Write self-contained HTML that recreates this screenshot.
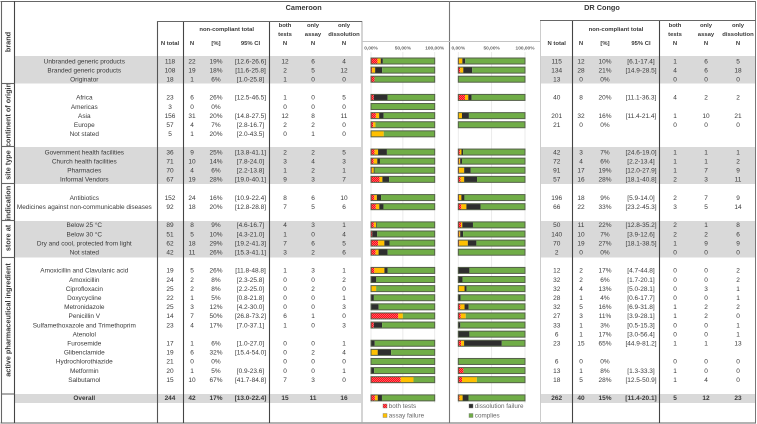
<!DOCTYPE html>
<html lang="en">
<head>
<meta charset="utf-8">
<title>Non-compliance by product characteristics, Cameroon and DR Congo</title>
<style>
html,body{margin:0;padding:0;background:#fff;width:757px;height:424px;overflow:hidden}
svg{display:block;font-family:"Liberation Sans",sans-serif;filter:blur(0.3px)}
text{fill:#3a3a3a}
</style>
</head>
<body>
<svg id="chart" xmlns="http://www.w3.org/2000/svg" width="757" height="424" viewBox="0 0 757 424">
<defs>
<pattern id="redCheck" width="2" height="2" patternUnits="userSpaceOnUse">
<rect width="2" height="2" fill="#ff0a18"/>
<rect width="0.7" height="0.7" fill="#ffb0b0"/>
<rect x="1" y="1" width="0.7" height="0.7" fill="#ffb0b0"/>
</pattern>
<pattern id="darkStripe" width="2" height="2" patternUnits="userSpaceOnUse">
<rect width="2" height="2" fill="#121212"/>
<rect width="2" height="0.6" y="0.7" fill="#707070"/>
</pattern>
<clipPath id="continentClip"><rect x="0" y="84" width="14" height="62"/></clipPath>
</defs>
</svg>
<script>
const n = null;
const rowLabels = ["Unbranded generic products","Branded generic products","Originator","",
"Africa","Americas","Asia","Europe","Not stated","",
"Government health facilities","Church health facilities","Pharmacies","Informal Vendors","",
"Antibiotics","Medicines against non-communicable diseases","",
"Below 25 °C","Below 30 °C","Dry and cool, protected from light","Not stated","",
"Amoxicillin and Clavulanic acid","Amoxicillin","Ciprofloxacin","Doxycycline","Metronidazole","Penicillin V","Sulfamethoxazole and Trimethoprim","Atenolol","Furosemide","Glibenclamide","Hydrochlorothiazide","Metformin","Salbutamol","",
"Overall"];
const camNTotal = [118,108,18,n,23,3,156,57,5,n,36,71,70,67,n,152,92,n,89,51,62,42,n,19,24,25,22,25,14,23,n,17,19,21,20,15,n,244];
const camN = [22,19,1,n,6,0,31,4,1,n,9,10,4,19,n,24,18,n,8,5,18,11,n,5,2,2,1,3,7,4,n,1,6,0,1,10,n,42];
const camPct = ["19%","18%","6%",n,"26%","0%","20%","7%","20%",n,"25%","14%","6%","28%",n,"16%","20%",n,"9%","10%","29%","26%",n,"26%","8%","8%","5%","12%","50%","17%",n,"6%","32%","0%","5%","67%",n,"17%"];
const camCI = ["[12.6-26.6]","[11.6-25.8]","[1.0-25.8]",n,"[12.5-46.5]",n,"[14.8-27.5]","[2.8-16.7]","[2.0-43.5]",n,"[13.8-41.1]","[7.8-24.0]","[2.2-13.8]","[19.0-40.1]",n,"[10.9-22.4]","[12.8-28.8]",n,"[4.6-16.7]","[4.3-21.0]","[19.2-41.3]","[15.3-41.1]",n,"[11.8-48.8]","[2.3-25.8]","[2.2-25.0]","[0.8-21.8]","[4.2-30.0]","[26.8-73.2]","[7.0-37.1]",n,"[1.0-27.0]","[15.4-54.0]",n,"[0.9-23.6]","[41.7-84.8]",n,"[13.0-22.4]"];
const camBoth = [12,2,1,n,1,0,12,2,0,n,2,3,1,9,n,8,7,n,4,1,7,3,n,1,0,0,0,0,6,1,n,0,0,0,0,7,n,15];
const camAssay = [6,5,0,n,0,0,8,2,1,n,2,4,2,3,n,6,5,n,3,0,6,2,n,3,0,2,0,0,1,0,n,0,2,0,0,3,n,11];
const camDiss = [4,12,0,n,5,0,11,0,0,n,5,3,1,7,n,10,6,n,1,4,5,6,n,1,2,0,1,3,0,3,n,1,4,0,1,0,n,16];
const conNTotal = [115,134,13,n,40,n,201,21,n,n,42,72,91,57,n,196,66,n,50,140,70,2,n,12,32,32,28,32,27,33,6,23,n,6,13,18,n,262];
const conN = [12,28,0,n,8,n,32,0,n,n,3,4,17,16,n,18,22,n,11,10,19,0,n,2,2,4,1,5,3,1,1,15,n,0,1,5,n,40];
const conPct = ["10%","21%","0%",n,"20%",n,"16%","0%",n,n,"7%","6%","19%","28%",n,"9%","33%",n,"22%","7%","27%","0%",n,"17%","6%","13%","4%","16%","11%","3%","17%","65%",n,"0%","8%","28%",n,"15%"];
const conCI = ["[6.1-17.4]","[14.9-28.5]",n,n,"[11.1-36.3]",n,"[11.4-21.4]",n,n,n,"[24.6-19.0]","[2.2-13.4]","[12.0-27.9]","[18.1-40.8]",n,"[5.9-14.0]","[23.2-45.3]",n,"[12.8-35.2]","[3.9-12.6]","[18.1-38.5]",n,n,"[4.7-44.8]","[1.7-20.1]","[5.0-28.1]","[0.6-17.7]","[6.9-31.8]","[3.9-28.1]","[0.5-15.3]","[3.0-56.4]","[44.9-81.2]",n,n,"[1.3-33.3]","[12.5-50.9]",n,"[11.4-20.1]"];
const conBoth = [1,4,0,n,4,n,1,0,n,n,1,1,1,2,n,2,3,n,2,2,1,0,n,0,0,0,0,1,1,0,0,1,n,0,1,1,n,5];
const conAssay = [6,6,0,n,2,n,10,0,n,n,1,1,7,3,n,7,5,n,1,2,9,0,n,0,0,3,0,2,2,0,0,1,n,0,0,4,n,12];
const conDiss = [5,18,0,n,2,n,21,0,n,n,1,2,9,11,n,9,14,n,8,6,9,0,n,2,2,1,1,2,0,1,1,13,n,0,0,0,n,23];
const axisTicks = [0,50,100];
const axisTickLabels = ["0,00%","50,00%","100,00%"];
const groupLabels = ["brand","continent of origin","site type","indication","store at","active pharmaceutical ingredient"];

const svg = document.getElementById('chart');
const NS = 'http://www.w3.org/2000/svg';
function mk(tag, attrs) {
  const el = document.createElementNS(NS, tag);
  for (const k in attrs) el.setAttribute(k, attrs[k]);
  svg.appendChild(el);
  return el;
}
function label(x, y, s, size, weight, anchor, fill) {
  const el = mk('text', {x: x, y: y + size * 0.35, 'font-size': size, 'font-weight': weight || 'normal', 'text-anchor': anchor || 'middle'});
  if (fill) el.style.fill = fill;
  el.textContent = s;
  return el;
}
function rowY(i) { return 61 + 9.105 * i; }
function line(x1, y1, x2, y2, color, w) {
  return mk('line', {x1: x1, y1: y1, x2: x2, y2: y2, stroke: color, 'stroke-width': w});
}
const bandSpans = [[56,83.5],[147,184],[221,257.5],[394,403]];
bandSpans.forEach(function (b) {
  const left = mk('rect', {x: 15, y: b[0], width: 346, height: b[1] - b[0], fill: '#d9d9d9'});
  
  
  const right = mk('rect', {x: 540, y: b[0], width: 215, height: b[1] - b[0], fill: '#d9d9d9'});
  
  
});

const camColumns = {nTotal: 170, n: 192, pct: 216, ci: 250.5, both: 285, assay: 313, diss: 344};
const conColumns = {nTotal: 556.7, n: 581, pct: 605, ci: 641, both: 675, assay: 706, diss: 738};
const plots = [
  {key: 'cameroon', x0: 371, x100: 434.7},
  {key: 'dr-congo', x0: 458.3, x100: 525}
];
function axisX(plot, v) { return plot.x0 + (plot.x100 - plot.x0) * v / 100; }

// gridlines and tick labels
plots.forEach(function (plot) {
  axisTicks.forEach(function (t, i) {
    const g = line(axisX(plot, t), 52, axisX(plot, t), 403, '#e6e6e6', 0.8);
    
    
    const tl = label(axisX(plot, t), 48, axisTickLabels[i], 4.8, 'bold', 'middle', '#666');
    
    
  });
});

// frame lines
const frame = [
  [0.5,1.5,756,1.5,'#666',1.1],[0.5,423,756,423,'#666',1.1],
  [1.5,1,1.5,423,'#666',1.1],[14.5,1,14.5,423,'#444',1.1],
  [157.5,21,157.5,423,'#555',1.1],[183.5,21,183.5,423,'#444',1.1],[269.5,21,269.5,423,'#444',1.1],
  [362,21,362,423,'#aaa',1],[449.5,1,449.5,423,'#777',1.1],
  [540.5,20.5,540.5,423,'#ccc',1],[572.5,20.5,572.5,423,'#444',1.1],[659.5,20.5,659.5,423,'#444',1.1],[755.5,1,755.5,423,'#777',1],
  [157,21.5,362,21.5,'#666',1.1],[540,20.5,756,20.5,'#666',1.1],
  [362,41.5,540,41.5,'#c4c4c4',1],
  [1,83.5,14.5,83.5,'#666',1.1],[1,146.5,14.5,146.5,'#666',1.1],[1,183.5,14.5,183.5,'#666',1.1],
  [1,220.5,14.5,220.5,'#666',1.1],[1,257.5,14.5,257.5,'#666',1.1],[1,394,14.5,394,'#666',1.1]
];
frame.forEach(function (f) {
  const l = line(f[0], f[1], f[2], f[3], f[4], f[5]);
  
  
});

// headers
const title1 = label(303.7, 7.5, 'Cameroon', 7.3, 'bold');


const title2 = label(602, 7.5, 'DR Congo', 7.3, 'bold');



function headers(c, ntc) {
  const items = [
    [c.nTotal,43,'N total'],[ntc,29,'non-compliant total'],[c.n,43,'N'],[c.pct,43,'[%]'],[c.ci,43,'95% CI'],
    [c.both,25,'both'],[c.both,34,'tests'],[c.both,43,'N'],
    [c.assay,25,'only'],[c.assay,34,'assay'],[c.assay,43,'N'],
    [c.diss,25,'only'],[c.diss,34,'dissolution'],[c.diss,43,'N']
  ];
  items.forEach(function (h) {
    const t = label(h[0], h[1], h[2], 5.9, 'bold');
    
    
  });
}
headers(camColumns, 226.7);
headers(conColumns, 616);

// group labels (rotated)
const groupCentres = [42, 115, 165, 203, 238, 320];
groupLabels.forEach(function (s, i) {
  const y = groupCentres[i];
  const t = mk('text', {x: 8, y: y, 'font-size': 7.3, 'font-weight': 'bold', 'text-anchor': 'middle', transform: 'rotate(-90 8 ' + y + ')', 'dominant-baseline': 'central'});
  t.textContent = s;
  
  
  if (i === 1) {
    const wrap = mk('g', {'clip-path': 'url(#continentClip)'});
    
    
    wrap.appendChild(t);
  }
});

// row labels
rowLabels.forEach(function (s, i) {
  if (!s) return;
  const t = label(84.3, rowY(i), s, 6.45, i === 37 ? 'bold' : 'normal');
  
  
});

// value cells
function cells(c, arrs) {
  const keys = ['nTotal','n','pct','ci','both','assay','diss'];
  keys.forEach(function (k, ki) {
    arrs[ki].forEach(function (v, i) {
      if (v === null) return;
      const t = label(c[k], rowY(i), String(v), 6.5, i === 37 ? 'bold' : 'normal');
      
      
    });
  });
}
cells(camColumns, [camNTotal, camN, camPct, camCI, camBoth, camAssay, camDiss]);
cells(conColumns, [conNTotal, conN, conPct, conCI, conBoth, conAssay, conDiss]);

// stacked bars
function bars(plot, totals, both, assay, diss) {
  totals.forEach(function (tot, i) {
    if (tot === null) return;
    const y = rowY(i) - 3;
    const h = 6;
    let acc = 0;
    const segs = [[both[i],'url(#redCheck)','both-tests'],[assay[i],'#ffc000','assay-failure'],[diss[i],'url(#darkStripe)','dissolution-failure'],[tot - both[i] - assay[i] - diss[i],'#70ad47','complies']];
    segs.forEach(function (s) {
      if (!s[0]) return;
      const x1 = axisX(plot, acc / tot * 100);
      acc += s[0];
      const x2 = axisX(plot, acc / tot * 100);
      const r = mk('rect', {x: x1, y: y, width: x2 - x1, height: h, fill: s[1]});
      
      
    });
    const outline = mk('rect', {x: plot.x0, y: y, width: plot.x100 - plot.x0, height: h, fill: 'none', stroke: '#55604a', 'stroke-width': 1});
    
    
  });
}
bars(plots[0], camNTotal, camBoth, camAssay, camDiss);
bars(plots[1], conNTotal, conBoth, conAssay, conDiss);

// legend
const legendNames = ['both  tests','assay failure','dissolution failure','complies'];
const legendFills = ['url(#redCheck)','#ffc000','url(#darkStripe)','#70ad47'];
const legendSpots = [[385,406],[385,415.5],[471,406],[471,415.5]];
legendNames.forEach(function (s, i) {
  const sw = mk('rect', {x: legendSpots[i][0] - 2, y: legendSpots[i][1] - 2, width: 4, height: 4, fill: legendFills[i], stroke: '#777', 'stroke-width': 0.4});
  
  
  const t = label(legendSpots[i][0] + 3.8, legendSpots[i][1], s, 6.3, 'normal', 'start', '#666');
  
  
});
</script>
</body>
</html>
